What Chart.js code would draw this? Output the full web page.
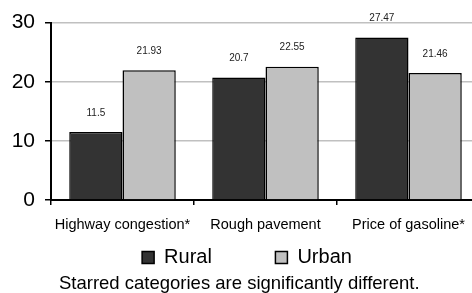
<!DOCTYPE html>
<html>
<head>
<meta charset="utf-8">
<script src="https://cdn.jsdelivr.net/npm/chart.js@4/dist/chart.umd.min.js"></script>
<style>
html, body { margin: 0; padding: 0; background: #fff; overflow: hidden; width: 472px; height: 293px; }
#c { position: absolute; left: 0; top: 0; }
</style>
</head>
<body>
<canvas id="c" width="494" height="293"></canvas>
<script>
const categories = ['Highway congestion*', 'Rough pavement', 'Price of gasoline*'];
const ruralValues = [11.5, 20.7, 27.47];
const urbanValues = [21.93, 22.55, 21.46];
const seriesNames = ['Rural', 'Urban'];
const yTicks = [0, 10, 20, 30];
const footnote = 'Starred categories are significantly different.';

const FONT = "'Liberation Sans', Arial, sans-serif";

const valueLabels = {
  id: 'valueLabels',
  afterDatasetsDraw(chart) {
    const ctx = chart.ctx;
    ctx.save();
    ctx.font = '10px ' + FONT;
    ctx.fillStyle = '#222';
    ctx.textAlign = 'center';
    ctx.textBaseline = 'middle';
    chart.data.datasets.forEach((ds, di) => {
      const meta = chart.getDatasetMeta(di);
      meta.data.forEach((bar, i) => {
        ctx.fillText(String(ds.data[i]), bar.x, bar.y - 19);
      });
    });
    ctx.restore();
  }
};

new Chart(document.getElementById('c'), {
  type: 'bar',
  data: {
    labels: categories,
    datasets: [
      { label: seriesNames[0], data: ruralValues, backgroundColor: '#333333', borderColor: '#000', borderWidth: 1.5 },
      { label: seriesNames[1], data: urbanValues, backgroundColor: '#c0c0c0', borderColor: '#000', borderWidth: 1.5 }
    ]
  },
  options: {
    responsive: false,
    animation: false,
    devicePixelRatio: 1,
    categoryPercentage: 0.745,
    barPercentage: 1.0,
    layout: { padding: { top: 10.4, left: 0, right: 0, bottom: 0 } },
    scales: {
      x: {
        grid: { display: true, offset: true, drawOnChartArea: false, drawTicks: true, tickLength: 5, color: '#000', lineWidth: 1.5 },
        border: { display: true, color: '#000', width: 2 },
        ticks: { font: { family: FONT, size: 14.5 }, color: '#000', padding: 11, maxRotation: 0, autoSkip: false },
        afterFit(s) { s.height = 34; }
      },
      y: {
        min: 0, max: 30,
        afterBuildTicks(s) { s.ticks = yTicks.map(v => ({ value: v })); },
        grid: { color: '#c0c0c0', lineWidth: 1.5, tickColor: '#000', tickLength: 6, drawTicks: true },
        border: { display: true, color: '#000', width: 2 },
        ticks: { font: { family: FONT, size: 21 }, color: '#000', padding: 10 },
        afterFit(s) { s.width = 51; }
      },
      yR: {
        type: 'linear', position: 'right', display: true,
        grid: { display: false, drawOnChartArea: false, drawTicks: false },
        border: { display: false },
        ticks: { display: false },
        afterFit(s) { s.width = 14; }
      }
    },
    plugins: {
      legend: {
        position: 'bottom',
        labels: {
          font: { family: FONT, size: 20 },
          color: '#000',
          boxWidth: 12, boxHeight: 12,
          padding: 13.5,
          generateLabels(chart) {
            const items = Chart.defaults.plugins.legend.labels.generateLabels(chart);
            items[0].text = items[0].text + '         ';
            return items;
          }
        }
      },
      title: {
        display: true,
        position: 'bottom',
        text: footnote + '   ',
        color: '#000',
        font: { family: FONT, size: 18.5, weight: 'normal', lineHeight: '12px' },
        padding: { top: 0, bottom: 3.5 }
      },
      tooltip: { enabled: false }
    }
  },
  plugins: [valueLabels]
});
</script>
</body>
</html>
